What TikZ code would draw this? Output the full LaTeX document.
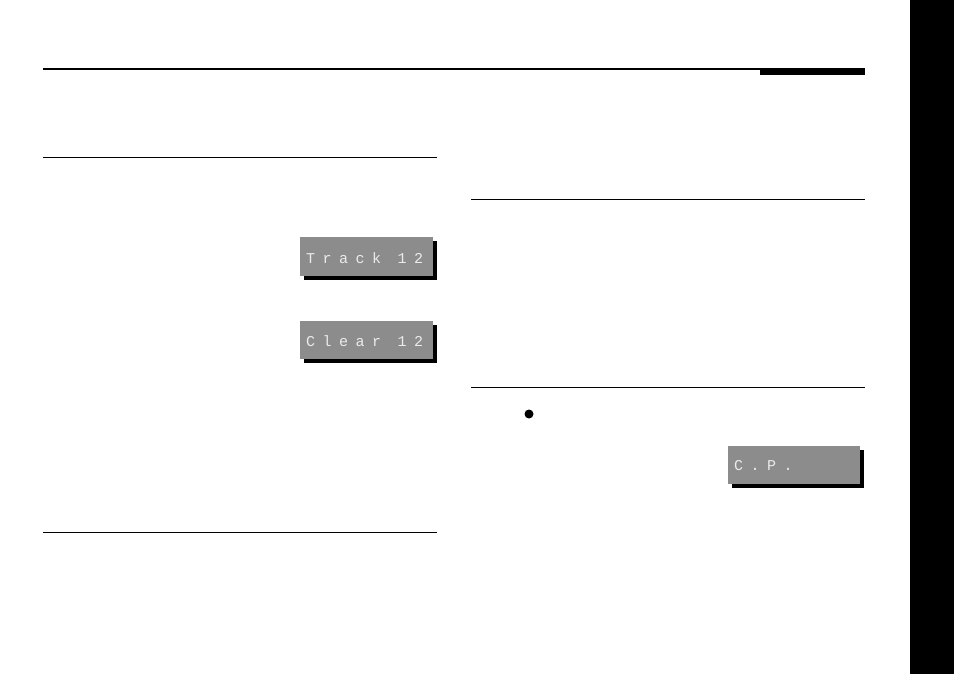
\documentclass[tikz,border=0pt]{standalone}
\usepackage{fontspec}
\newfontfamily\lcd[LetterSpace=50]{Liberation Mono}
\begin{document}
\begin{tikzpicture}[x=1pt,y=-1pt,
  lcdbox/.style={fill=black!45,draw=none,minimum width=133pt,minimum height=39pt,anchor=north west,inner sep=0pt},
  shadow/.style={fill=black},
  lcdtext/.style={anchor=west,text=black!8,font=\lcd\fontsize{15}{15}\selectfont,inner sep=0pt}]
\useasboundingbox (0,0) rectangle (954,674);
\fill (910,0) rectangle (954,674);
\draw[line width=1.5pt] (43,69) -- (865,69);
\fill (760,69) rectangle (865,75);
\draw[line width=0.8pt] (43,157) -- (437,157);
\draw[line width=0.8pt] (43,532) -- (437,532);
\draw[line width=0.8pt] (471,199) -- (865,199);
\draw[line width=0.8pt] (471,387) -- (865,387);
\fill (529,414) circle (4.5);
% Track
\fill (304,241) rectangle (437,280);
\node[lcdbox] (t) at (300,237) {};
\node[lcdtext] (tt) at (306,258) {Track 12};
% Clear
\fill (304,325) rectangle (437,363);
\node[lcdbox,minimum height=38pt] (c) at (300,321) {};
\node[lcdtext] (ct) at (306,341) {Clear 12};
% CP
\fill (732,450) rectangle (864,488);
\node[lcdbox,minimum width=132pt,minimum height=38pt] (p) at (728,446) {};
\node[lcdtext] (pt) at (734,466) {C.P.};
\end{tikzpicture}
\end{document}
